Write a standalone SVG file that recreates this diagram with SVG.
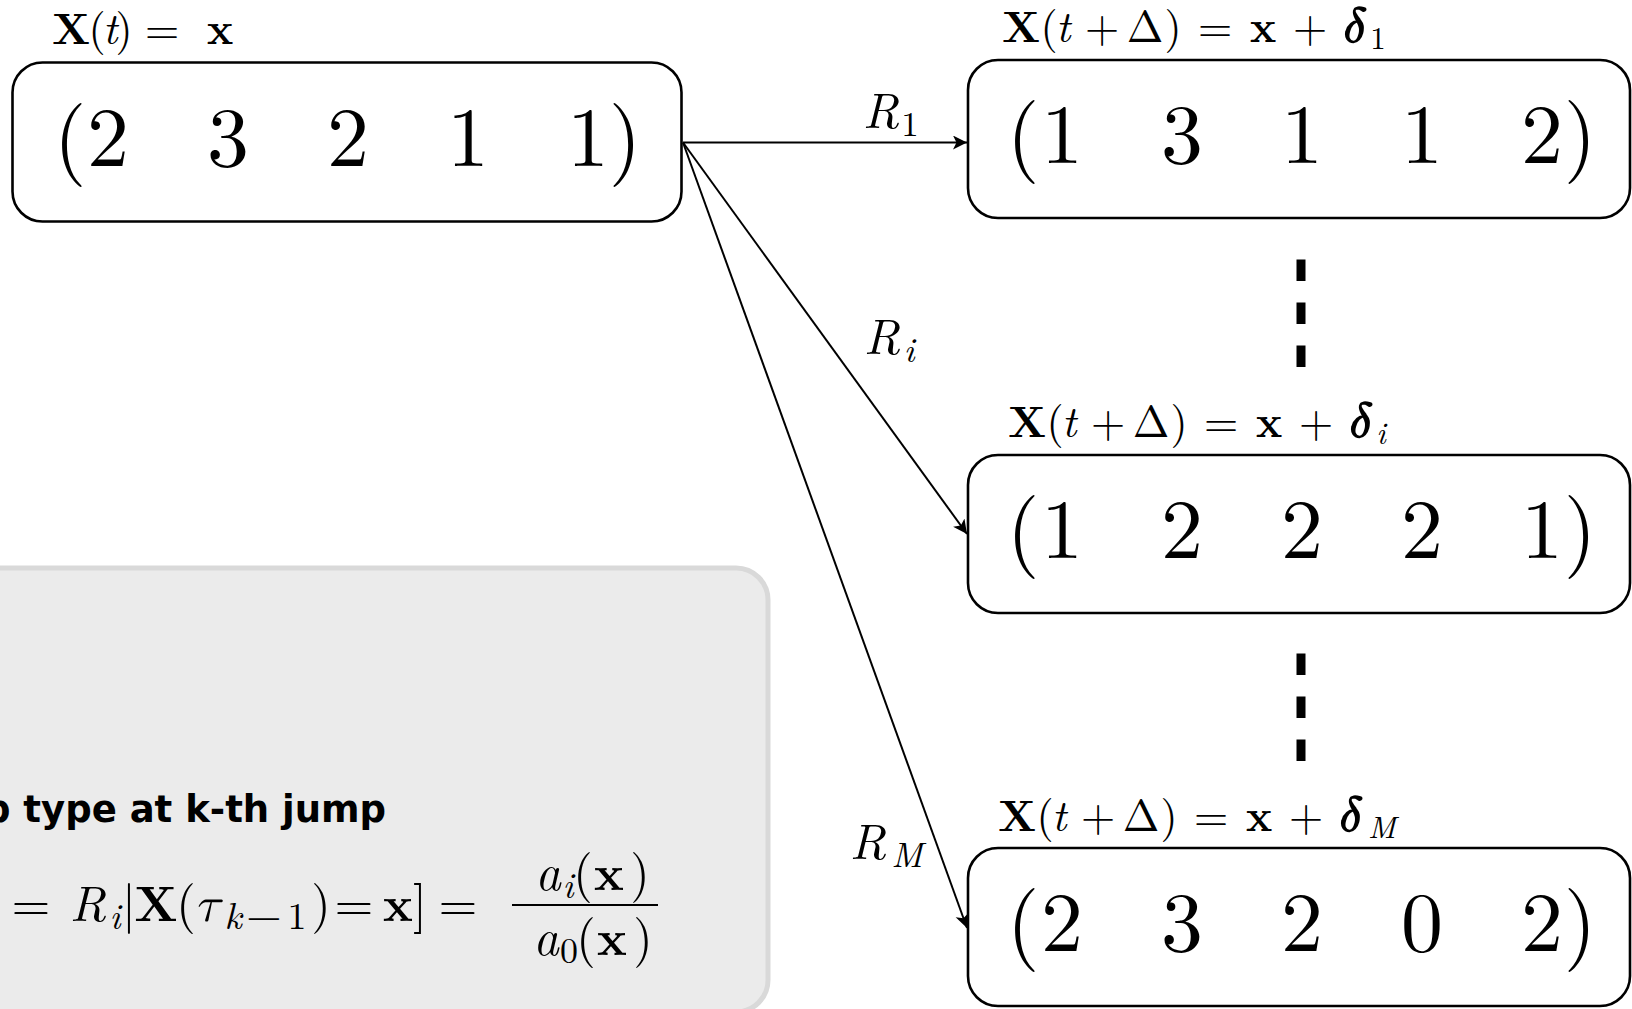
<svg xmlns="http://www.w3.org/2000/svg" width="1632" height="1009" viewBox="0 0 1632 1009">
<style>
.box{fill:#fff;stroke:#000;stroke-width:2.6}
.m{font-family:"Latin Modern Roman","CMU Serif","Latin Modern Math","Liberation Serif",serif;fill:#000}
.mm{font-family:"Latin Modern Math","Latin Modern Roman","CMU Serif",serif}
.big{font-size:84px}
.lab{font-size:44px}
.sub{font-size:31px}
.dl{font-size:49px}
.rl{font-size:50px}
.rsub{font-size:35px}
.it{font-style:italic}
.bf{font-weight:bold}
.conn{stroke:#000;stroke-width:2;fill:none}
.dots{stroke:#000;stroke-width:9;stroke-dasharray:21.5 21.5;fill:none}
.note{fill:#ebebeb;stroke:#d9d9d9;stroke-width:5}
.nt{font-family:"DejaVu Sans","Liberation Sans",sans-serif;font-weight:bold;font-size:37px;fill:#000}
.fm{font-size:50px}
.fsub{font-size:36px}
.ksub{font-size:38px}
.kmin{font-size:46px}
</style>
<defs>
<marker id="arr" markerUnits="userSpaceOnUse" markerWidth="16" markerHeight="16" refX="14" refY="7" orient="auto">
<path d="M0,0 L14,7 L0,14 L3.5,7 z" fill="#000"/>
</marker>
</defs>

<g id="note">
<rect class="note" x="-40" y="568" width="808" height="444" rx="32"/>
<text class="nt" x="-16" y="822">p type at k-th jump</text>
<text class="m fm" text-anchor="middle"><tspan x="31" y="921">=</tspan><tspan class="it" x="88" y="921">R</tspan><tspan class="it fsub" x="115" y="929">i</tspan><tspan x="129" y="921">|</tspan><tspan class="bf" x="156" y="921">X</tspan><tspan x="186" y="921">(</tspan><tspan class="it" x="208" y="921">τ</tspan><tspan class="it ksub" x="233" y="929">k</tspan><tspan class="mm kmin" x="264" y="931">−</tspan><tspan class="ksub" x="297" y="929">1</tspan><tspan x="321" y="921">)</tspan><tspan x="354" y="921">=</tspan><tspan class="bf" x="398" y="921">x</tspan><tspan x="420" y="921">]</tspan><tspan x="458" y="921">=</tspan><tspan class="it" x="548" y="890">a</tspan><tspan class="it fsub" x="568" y="898">i</tspan><tspan x="583" y="890">(</tspan><tspan class="bf" x="609" y="890">x</tspan><tspan x="640" y="890">)</tspan><tspan class="it" x="546" y="955">a</tspan><tspan class="fsub" x="569" y="963">0</tspan><tspan x="586" y="955">(</tspan><tspan class="bf" x="612" y="955">x</tspan><tspan x="643" y="955">)</tspan></text>
<line x1="512" y1="905" x2="658" y2="905" stroke="#000" stroke-width="2.2"/>
</g>

<g id="connectors">
<line class="conn" x1="683" y1="142.5" x2="967" y2="142.5" marker-end="url(#arr)"/>
<line class="conn" x1="683" y1="142.5" x2="967" y2="534" marker-end="url(#arr)"/>
<line class="conn" x1="683" y1="142.5" x2="967" y2="928" marker-end="url(#arr)"/>
<line class="dots" x1="1301" y1="259.5" x2="1301" y2="367"/>
<line class="dots" x1="1301" y1="653.5" x2="1301" y2="761"/>
<text class="m rl" text-anchor="middle"><tspan class="it" x="881" y="128">R</tspan><tspan class="rsub" x="910" y="136">1</tspan></text>
<text class="m rl" text-anchor="middle"><tspan class="it" x="882" y="354">R</tspan><tspan class="it rsub" x="909" y="362">i</tspan></text>
<text class="m rl" text-anchor="middle"><tspan class="it" x="868" y="859">R</tspan><tspan class="it rsub" x="907" y="867">M</tspan></text>
</g>

<g id="state-x">
<text class="m lab" text-anchor="middle"><tspan class="bf" x="71" y="44">X</tspan><tspan x="97" y="44">(</tspan><tspan class="it" x="110" y="44">t</tspan><tspan x="124" y="44">)</tspan><tspan x="162" y="44">=</tspan><tspan class="bf" x="220" y="44">x</tspan></text>
<rect class="box" x="12.5" y="62.5" width="669" height="159" rx="30"/>
<text class="m big" text-anchor="middle"><tspan x="70" y="166">(</tspan><tspan x="108" y="166">2</tspan><tspan x="228" y="166">3</tspan><tspan x="348" y="166">2</tspan><tspan x="468" y="166">1</tspan><tspan x="588" y="166">1</tspan><tspan x="625" y="166">)</tspan></text>
</g>

<g id="state-1">
<text class="m lab" text-anchor="middle"><tspan class="bf" x="1021" y="42">X</tspan><tspan x="1049" y="42">(</tspan><tspan class="it" x="1063" y="42">t</tspan><tspan x="1102" y="42">+</tspan><tspan x="1145" y="42">Δ</tspan><tspan x="1173" y="42">)</tspan><tspan x="1215" y="42">=</tspan><tspan class="bf" x="1263" y="42">x</tspan><tspan x="1310" y="42">+</tspan><tspan class="bf it dl" x="1352" y="42">δ</tspan><tspan class="sub" x="1378" y="49">1</tspan></text>
<rect class="box" x="968" y="60" width="662" height="158" rx="30"/>
<text class="m big" text-anchor="middle"><tspan x="1023" y="163">(</tspan><tspan x="1062" y="163">1</tspan><tspan x="1182" y="163">3</tspan><tspan x="1302" y="163">1</tspan><tspan x="1422" y="163">1</tspan><tspan x="1542" y="163">2</tspan><tspan x="1580" y="163">)</tspan></text>
</g>

<g id="state-i">
<text class="m lab" text-anchor="middle"><tspan class="bf" x="1027" y="437">X</tspan><tspan x="1055" y="437">(</tspan><tspan class="it" x="1069" y="437">t</tspan><tspan x="1108" y="437">+</tspan><tspan x="1151" y="437">Δ</tspan><tspan x="1179" y="437">)</tspan><tspan x="1221" y="437">=</tspan><tspan class="bf" x="1269" y="437">x</tspan><tspan x="1316" y="437">+</tspan><tspan class="bf it dl" x="1358" y="437">δ</tspan><tspan class="it sub" x="1381" y="444">i</tspan></text>
<rect class="box" x="968" y="455" width="662" height="158" rx="30"/>
<text class="m big" text-anchor="middle"><tspan x="1023" y="558">(</tspan><tspan x="1062" y="558">1</tspan><tspan x="1182" y="558">2</tspan><tspan x="1302" y="558">2</tspan><tspan x="1422" y="558">2</tspan><tspan x="1542" y="558">1</tspan><tspan x="1580" y="558">)</tspan></text>
</g>

<g id="state-M">
<text class="m lab" text-anchor="middle"><tspan class="bf" x="1017" y="831">X</tspan><tspan x="1045" y="831">(</tspan><tspan class="it" x="1059" y="831">t</tspan><tspan x="1098" y="831">+</tspan><tspan x="1141" y="831">Δ</tspan><tspan x="1169" y="831">)</tspan><tspan x="1211" y="831">=</tspan><tspan class="bf" x="1259" y="831">x</tspan><tspan x="1306" y="831">+</tspan><tspan class="bf it dl" x="1348" y="831">δ</tspan><tspan class="it sub" x="1382" y="838">M</tspan></text>
<rect class="box" x="968" y="848" width="662" height="158" rx="30"/>
<text class="m big" text-anchor="middle"><tspan x="1023" y="951">(</tspan><tspan x="1062" y="951">2</tspan><tspan x="1182" y="951">3</tspan><tspan x="1302" y="951">2</tspan><tspan x="1422" y="951">0</tspan><tspan x="1542" y="951">2</tspan><tspan x="1580" y="951">)</tspan></text>
</g>
</svg>
